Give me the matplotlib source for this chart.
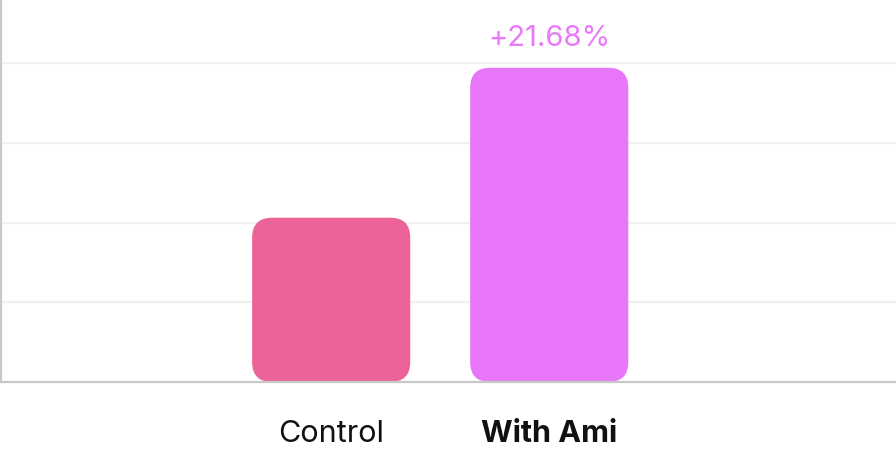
import matplotlib
matplotlib.use("Agg")
import matplotlib.pyplot as plt
from matplotlib.patches import FancyBboxPatch

# data
groups = ["Control", "With Ami"]
values = [2.06, 3.94]
lift_label = "+21.68%"
colors = ["#EC6399", "#E876F8"]
label_color = "#E879F9"

plt.rcParams["font.family"] = ["Inter", "DejaVu Sans"]

fig = plt.figure(figsize=(8.96, 4.54), dpi=100)
ax = fig.add_axes([1 / 896, (454 - 382) / 454, 895 / 896, 382 / 454])

x = list(range(len(groups)))
bars = ax.bar(x, values, width=0.725, color=colors, zorder=2)

ax.set_xlim(-1.514, 2.59)
ax.set_ylim(0, 4.79)

# swap plain bars for rounded ones (radius ~20px, axes not equal-aspect)
px_x = 2.59 + 1.514
px_y = 4.79
aspect = (px_y / 382) / (px_x / 895)
for b, c in zip(bars, colors):
    b.set_visible(False)
    patch = FancyBboxPatch((b.get_x(), b.get_y()), b.get_width(), b.get_height(),
                           boxstyle=f"round,pad=0,rounding_size={20 * px_x / 895}",
                           mutation_aspect=aspect, fc=c, ec="none", zorder=2)
    ax.add_patch(patch)

ax.text(x[1], values[1] + 0.2, lift_label, ha="center", va="bottom",
        fontsize=21, color=label_color)

ax.set_yticks([1, 2, 3, 4])
ax.yaxis.grid(True, color="#F0F0F0", lw=1.6, zorder=0)
ax.tick_params(axis="y", left=False, labelleft=False)
ax.set_xticks(x)
ax.set_xticklabels(groups, fontsize=22, color="#111111")
ax.get_xticklabels()[1].set_fontweight("bold")
ax.tick_params(axis="x", bottom=False, pad=24)

for s in ["top", "right"]:
    ax.spines[s].set_visible(False)
for s in ["left", "bottom"]:
    ax.spines[s].set_color("#C8C8C8")
    ax.spines[s].set_linewidth(1.6)
    ax.spines[s].set_zorder(3)

fig.savefig("out.png", dpi=100)
